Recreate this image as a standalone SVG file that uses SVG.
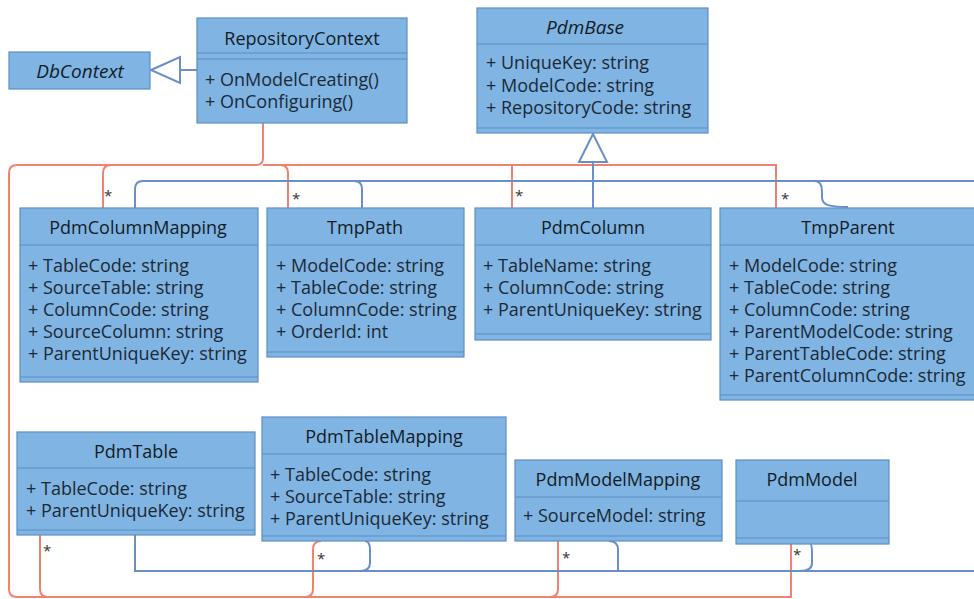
<svg xmlns="http://www.w3.org/2000/svg" width="974" height="599" viewBox="0 0 974 599">
  <style>
    .box { fill: #7fb4e3; stroke: #5d8ec4; stroke-width: 1.2; }
    .sep { stroke: #5d8ec4; stroke-width: 1.2; fill: none; }
    .title { font-family: "Open Sans", "Noto Sans", sans-serif; font-size: 18px; font-weight: 500; fill: #141c26; text-anchor: middle; }
    .abstract { font-style: italic; font-weight: 500; font-size: 19px; }
    .attr { font-family: "Open Sans", "Noto Sans", sans-serif; font-size: 18px; fill: #1d2935; }
    .assoc { stroke: #f2816f; stroke-width: 2; fill: none; }
    .gen { stroke: #6a8fc6; stroke-width: 2; fill: none; }
    .mult { font-family: "Open Sans", "Noto Sans", sans-serif; font-size: 15px; fill: #333; }
  </style>

  <rect width="974" height="599" fill="#ffffff"/>

  <!-- connectors -->
  <g id="connectors">
    <!-- DbContext association from RepositoryContext to every entity -->
    <path class="assoc" d="M 263 123 V 158 Q 263 165 256 165 H 17 Q 9 165 9 173 V 589 Q 9 597 17 597 H 791 V 544"/>
    <path class="assoc" d="M 263 165 H 776 V 208"/>
    <path class="assoc" d="M 103 208 V 173 Q 103 165 111 165"/>
    <path class="assoc" d="M 288 208 V 173 Q 288 165 280 165"/>
    <path class="assoc" d="M 512 208 V 165"/>
    <path class="assoc" d="M 40 535 V 589 Q 40 597 48 597"/>
    <path class="assoc" d="M 321 541 Q 313 541 313 550 V 589 Q 313 597 305 597"/>
    <path class="assoc" d="M 558 541 V 589 Q 558 597 550 597"/>

    <!-- inheritance: RepositoryContext -> DbContext -->
    <line class="gen" x1="197" y1="70" x2="180" y2="70"/>
    <polygon class="gen" points="151,70 180,57 180,83" fill="#ffffff"/>

    <!-- inheritance: entities -> PdmBase -->
    <polygon class="gen" points="593,134 579,162 607,162" fill="#ffffff"/>
    <path class="gen" d="M 593 162 V 208"/>
    <path class="gen" d="M 143 181 H 974"/>
    <path class="gen" d="M 135 208 V 189 Q 135 181 143 181"/>
    <path class="gen" d="M 362 208 V 189 Q 362 181 354 181"/>
    <path class="gen" d="M 814 181 C 823 181 822 190 822 197 C 822 204 826 207 848 207"/>
    <path class="gen" d="M 135 535 V 571 H 974"/>
    <path class="gen" d="M 365 541 Q 370 541 370 550 V 563 Q 370 571 360 571"/>
    <path class="gen" d="M 609 541 Q 618 541 618 550 V 571"/>
    <path class="gen" d="M 810 544 Q 812 544 812 553 V 563 Q 812 571 800 571"/>

    <!-- multiplicities -->
    <text class="mult" x="104" y="201">*</text>
    <text class="mult" x="292" y="204">*</text>
    <text class="mult" x="515" y="201">*</text>
    <text class="mult" x="781" y="204">*</text>
    <text class="mult" x="43" y="556">*</text>
    <text class="mult" x="317" y="564">*</text>
    <text class="mult" x="562" y="563">*</text>
    <text class="mult" x="793" y="560">*</text>
  </g>

  <!-- classes -->
  <g id="DbContext">
    <rect class="box" x="9" y="52" width="141" height="37"/>
    <text class="title abstract" x="80" y="78">DbContext</text>
  </g>

  <g id="RepositoryContext">
    <rect class="box" x="197" y="18" width="210" height="105"/>
    <line class="sep" x1="197" y1="53" x2="407" y2="53"/>
    <line class="sep" x1="197" y1="59" x2="407" y2="59"/>
    <text class="title" x="302" y="45">RepositoryContext</text>
    <text class="attr" x="205" y="86">+ OnModelCreating()</text>
    <text class="attr" x="205" y="108">+ OnConfiguring()</text>
  </g>

  <g id="PdmBase">
    <rect class="box" x="477" y="8" width="231" height="125"/>
    <line class="sep" x1="477" y1="44" x2="708" y2="44"/>
    <line class="sep" x1="477" y1="128" x2="708" y2="128"/>
    <text class="title abstract" x="585" y="34">PdmBase</text>
    <text class="attr" x="486" y="69">+ UniqueKey: string</text>
    <text class="attr" x="486" y="92">+ ModelCode: string</text>
    <text class="attr" x="486" y="114">+ RepositoryCode: string</text>
  </g>

  <g id="PdmColumnMapping">
    <rect class="box" x="20" y="208" width="238" height="174"/>
    <line class="sep" x1="20" y1="245" x2="258" y2="245"/>
    <line class="sep" x1="20" y1="377" x2="258" y2="377"/>
    <text class="title" x="138" y="234">PdmColumnMapping</text>
    <text class="attr" x="28" y="272">+ TableCode: string</text>
    <text class="attr" x="28" y="294">+ SourceTable: string</text>
    <text class="attr" x="28" y="316">+ ColumnCode: string</text>
    <text class="attr" x="28" y="338">+ SourceColumn: string</text>
    <text class="attr" x="28" y="360">+ ParentUniqueKey: string</text>
  </g>

  <g id="TmpPath">
    <rect class="box" x="267" y="208" width="197" height="149"/>
    <line class="sep" x1="267" y1="245" x2="464" y2="245"/>
    <line class="sep" x1="267" y1="352" x2="464" y2="352"/>
    <text class="title" x="365" y="234">TmpPath</text>
    <text class="attr" x="276" y="272">+ ModelCode: string</text>
    <text class="attr" x="276" y="294">+ TableCode: string</text>
    <text class="attr" x="276" y="316">+ ColumnCode: string</text>
    <text class="attr" x="276" y="338">+ OrderId: int</text>
  </g>

  <g id="PdmColumn">
    <rect class="box" x="475" y="208" width="236" height="132"/>
    <line class="sep" x1="475" y1="245" x2="711" y2="245"/>
    <line class="sep" x1="475" y1="334" x2="711" y2="334"/>
    <text class="title" x="593" y="234">PdmColumn</text>
    <text class="attr" x="483" y="272">+ TableName: string</text>
    <text class="attr" x="483" y="294">+ ColumnCode: string</text>
    <text class="attr" x="483" y="316">+ ParentUniqueKey: string</text>
  </g>

  <g id="TmpParent">
    <rect class="box" x="720" y="208" width="256" height="192"/>
    <line class="sep" x1="720" y1="245" x2="976" y2="245"/>
    <line class="sep" x1="720" y1="395" x2="976" y2="395"/>
    <text class="title" x="848" y="234">TmpParent</text>
    <text class="attr" x="729" y="272">+ ModelCode: string</text>
    <text class="attr" x="729" y="294">+ TableCode: string</text>
    <text class="attr" x="729" y="316">+ ColumnCode: string</text>
    <text class="attr" x="729" y="338">+ ParentModelCode: string</text>
    <text class="attr" x="729" y="360">+ ParentTableCode: string</text>
    <text class="attr" x="729" y="382">+ ParentColumnCode: string</text>
  </g>

  <g id="PdmTable">
    <rect class="box" x="17" y="432" width="238" height="103"/>
    <line class="sep" x1="17" y1="468" x2="255" y2="468"/>
    <line class="sep" x1="17" y1="530" x2="255" y2="530"/>
    <text class="title" x="136" y="458">PdmTable</text>
    <text class="attr" x="26" y="495">+ TableCode: string</text>
    <text class="attr" x="26" y="517">+ ParentUniqueKey: string</text>
  </g>

  <g id="PdmTableMapping">
    <rect class="box" x="262" y="417" width="244" height="124"/>
    <line class="sep" x1="262" y1="454" x2="506" y2="454"/>
    <line class="sep" x1="262" y1="536" x2="506" y2="536"/>
    <text class="title" x="384" y="443">PdmTableMapping</text>
    <text class="attr" x="270" y="481">+ TableCode: string</text>
    <text class="attr" x="270" y="503">+ SourceTable: string</text>
    <text class="attr" x="270" y="525">+ ParentUniqueKey: string</text>
  </g>

  <g id="PdmModelMapping">
    <rect class="box" x="515" y="460" width="207" height="81"/>
    <line class="sep" x1="515" y1="497" x2="722" y2="497"/>
    <line class="sep" x1="515" y1="536" x2="722" y2="536"/>
    <text class="title" x="618" y="486">PdmModelMapping</text>
    <text class="attr" x="523" y="522">+ SourceModel: string</text>
  </g>

  <g id="PdmModel">
    <rect class="box" x="736" y="460" width="153" height="84"/>
    <line class="sep" x1="736" y1="501" x2="889" y2="501"/>
    <line class="sep" x1="736" y1="538" x2="889" y2="538"/>
    <text class="title" x="812" y="486">PdmModel</text>
  </g>
</svg>
